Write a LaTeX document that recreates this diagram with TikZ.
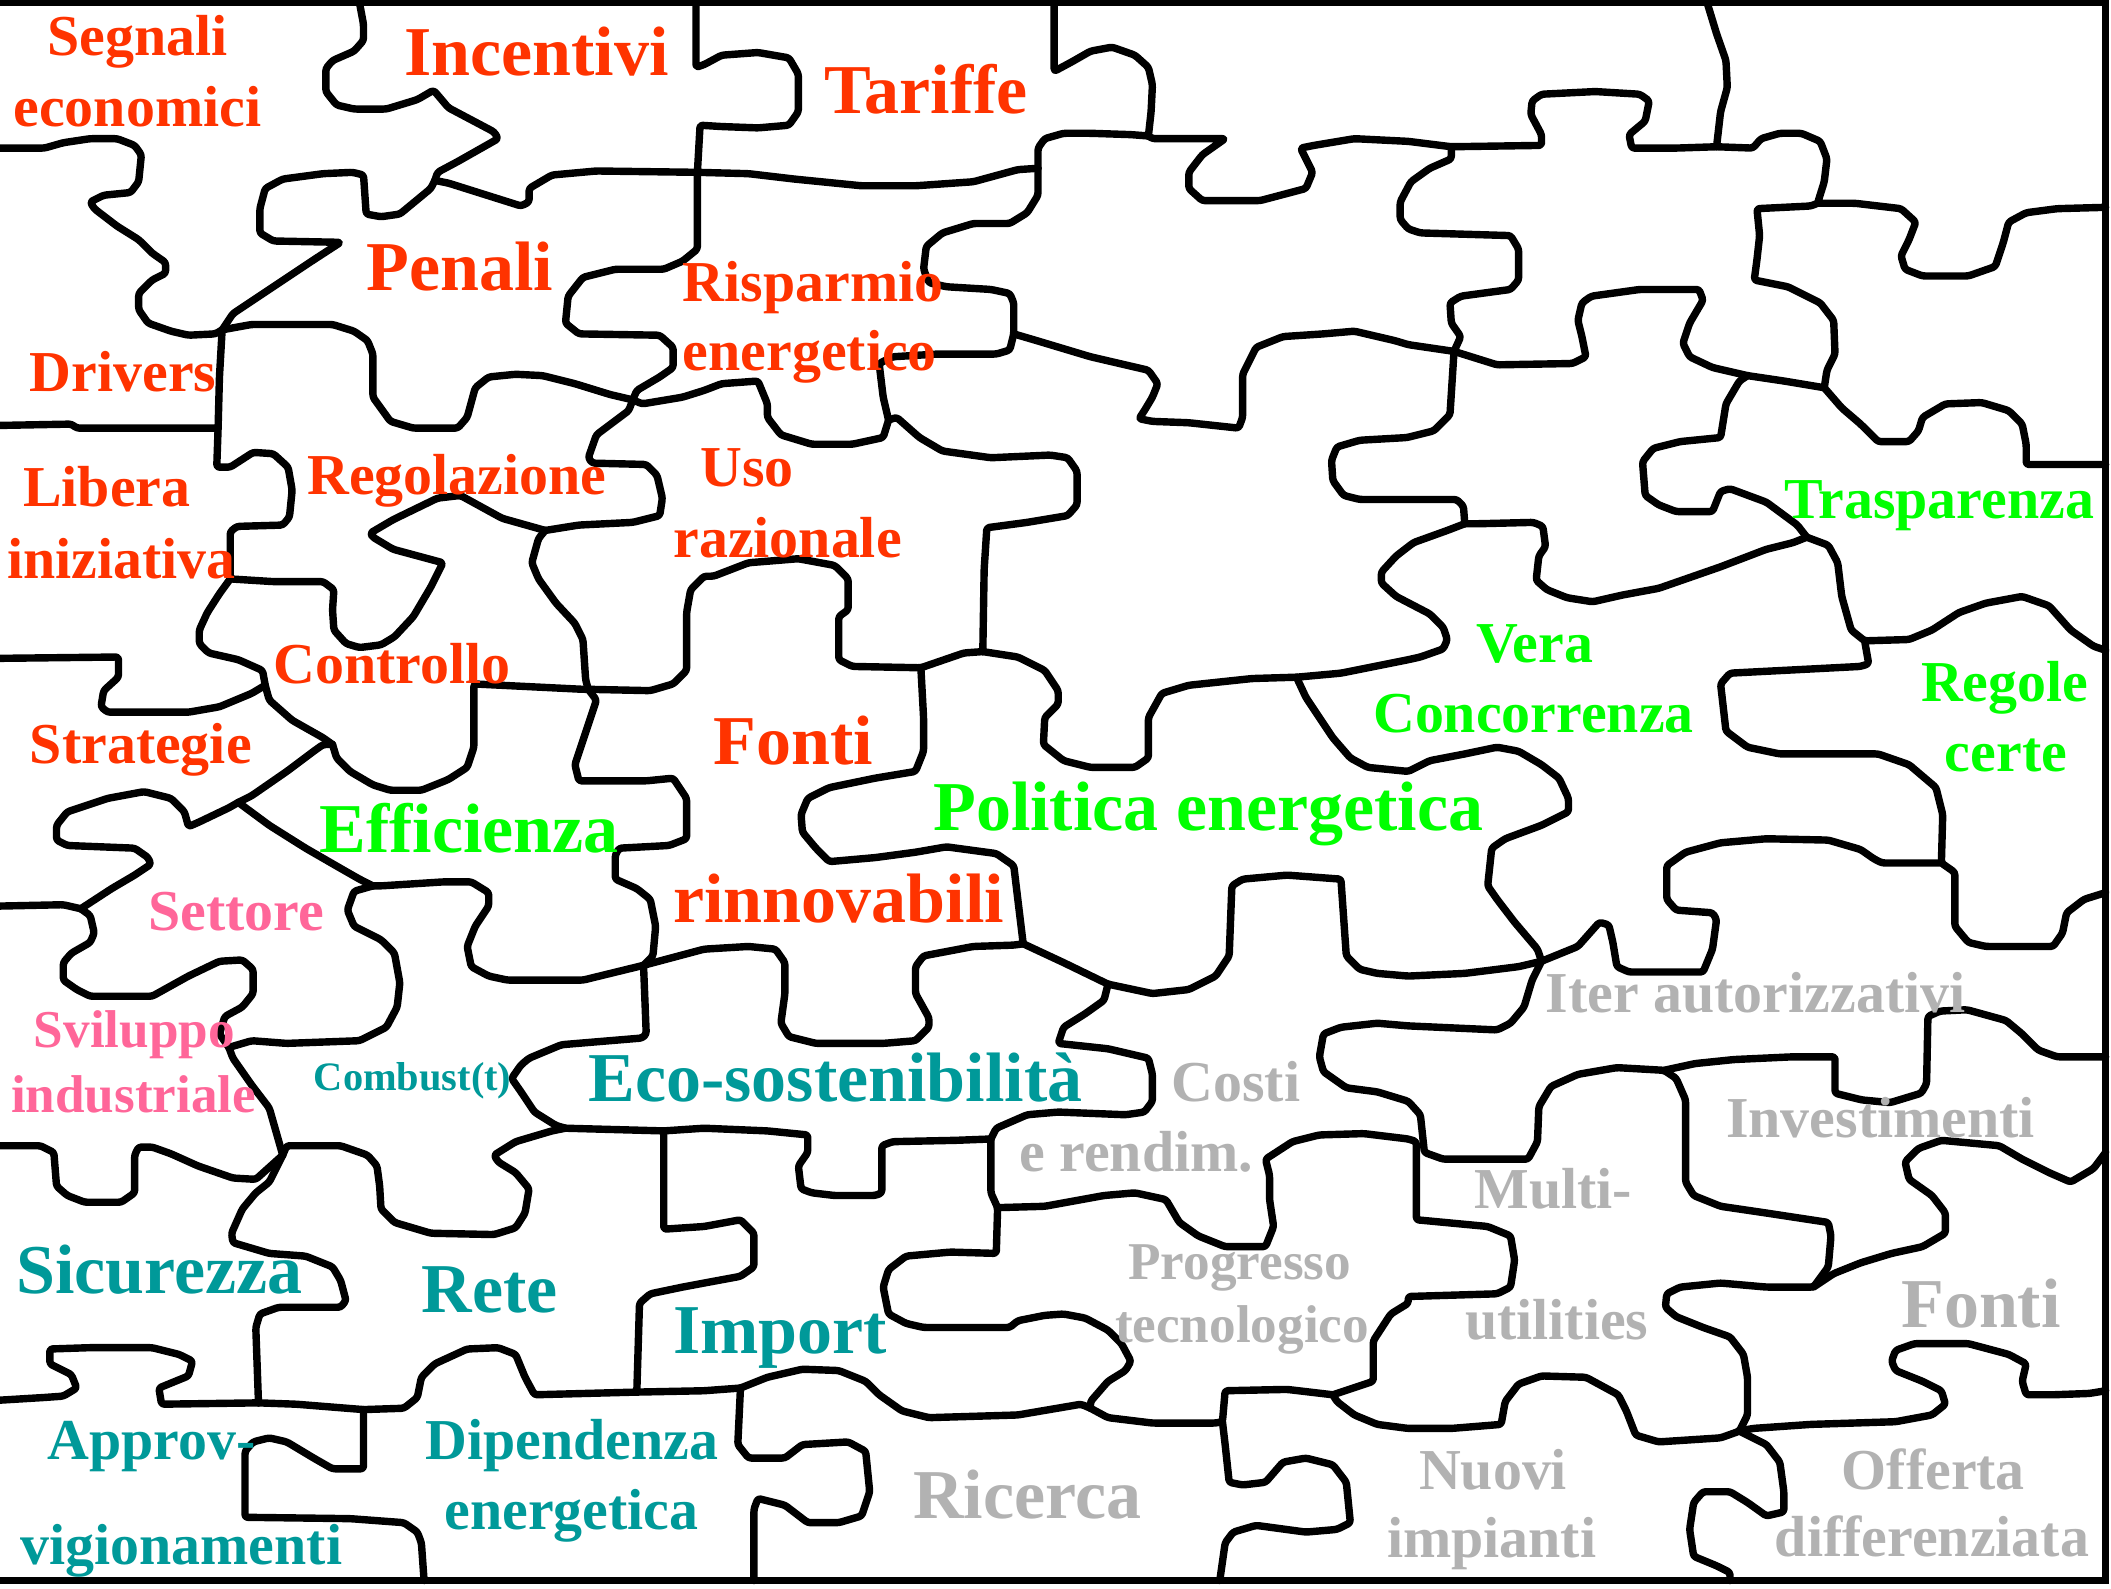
\documentclass[tikz,border=0pt]{standalone}
\usepackage{fontspec}
\setmainfont{Liberation Serif}
\definecolor{lblred}{RGB}{255,51,0}
\definecolor{lblgreen}{RGB}{0,255,0}
\definecolor{lblpink}{RGB}{255,102,153}
\definecolor{lblteal}{RGB}{0,153,153}
\definecolor{lblgray}{RGB}{178,178,178}
\newcommand\szBig{\fontsize{52}{52}\selectfont}
\newcommand\szMid{\fontsize{43}{43}\selectfont}
\newcommand\szSm{\fontsize{39.5}{39.5}\selectfont}
\newcommand\szTiny{\fontsize{30}{30}\selectfont}
\begin{document}
\begin{tikzpicture}[x=1pt,y=-1pt,
  puz/.style={line width=5.5pt,rounded corners=2pt,line join=round,line cap=round},
  frame/.style={line width=5pt},
  lab/.style={anchor=base west,inner sep=0pt,font=\bfseries},
  labc/.style={anchor=base,inner sep=0pt,font=\bfseries}]
\useasboundingbox[fill=white] (0,0) rectangle (1568,1180);

% junction points of the cut lines
\coordinate (J1) at (323,134);  \coordinate (J2) at (470,297);
\coordinate (J3) at (165,245);  \coordinate (J4) at (405,394);
\coordinate (J5) at (437,512);  \coordinate (J6) at (197,509);
\coordinate (J7) at (171,430);  \coordinate (J8) at (247,553);
\coordinate (J11) at (177,596); \coordinate (J12) at (60,675);
\coordinate (J13) at (277,658); \coordinate (J14) at (170,778);
\coordinate (J15) at (210,858); \coordinate (J16) at (420,838);
\coordinate (J17) at (192,1042);\coordinate (J18) at (478,717);
\coordinate (J19) at (473,1034);\coordinate (J20) at (270,1047);
\coordinate (J21) at (771,125); \coordinate (J22) at (853,101);
\coordinate (J24) at (753,248); \coordinate (J25) at (660,312);
\coordinate (J26) at (1275,109);\coordinate (J27) at (1350,151);
\coordinate (J28) at (1355,288);\coordinate (J29) at (1078,109);
\coordinate (J30) at (1080,261);\coordinate (J31) at (1298,279);
\coordinate (J32) at (730,484); \coordinate (J33) at (760,701);
\coordinate (J34) at (684,496); \coordinate (J35) at (823,731);
\coordinate (J36) at (963,503); \coordinate (J37) at (1385,476);
\coordinate (J38) at (1442,641);\coordinate (J39) at (1342,399);
\coordinate (J40) at (1088,389);\coordinate (J42) at (1145,714);
\coordinate (J43) at (810,1046);\coordinate (J44) at (736,846);
\coordinate (J45) at (493,840); \coordinate (J46) at (908,1056);
\coordinate (J47) at (990,1036);\coordinate (J48) at (741,897);
\coordinate (J49) at (550,1031);\coordinate (J50) at (1347,956);
\coordinate (J51) at (1292,1063);\coordinate (J52) at (1236,795);
\coordinate (J53) at (518,128); \coordinate (J54) at (162,318);

% outer frame (top, right, bottom)
\draw[frame] (0,2) -- (1564,2) -- (1564,1174) -- (0,1174);

% cut lines, upper left
\draw[puz] (267,2) -- (270,18) -- (270,30) -- (263,38) -- (247,45) -- (242,51) -- (242,68) -- (250,78) -- (263,81) -- (287,81) -- (310,74) -- (322,67) -- (328,74) -- (333,80) -- (367,98) -- (370,103) -- (340,120) -- (325,128) -- (J1);
\draw[puz] (J1) -- (333,136) -- (387,153) -- (393,150) -- (393,140) -- (410,130) -- (443,127) -- (J53) -- (556,129) -- (590,133) -- (640,138) -- (680,138) -- (723,135) -- (756,126) -- (J21);
\draw[puz] (J1) -- (320,140) -- (297,159) -- (283,161) -- (272,159) -- (270,130) -- (262,128) -- (240,129) -- (210,133) -- (197,140) -- (193,155) -- (193,173) -- (203,179) -- (253,180) -- (233,193) -- (200,215) -- (173,233) -- (J3);
\draw[puz] (J3) -- (160,248) -- (140,249) -- (127,246) -- (110,240) -- (103,230) -- (103,218) -- (113,208) -- (123,203) -- (123,195) -- (113,188) -- (103,178) -- (87,168) -- (70,155) -- (67,150) -- (77,145) -- (97,143) -- (103,135) -- (105,115) -- (100,108) -- (87,103) -- (67,103) -- (47,106) -- (33,110) -- (0,110);
\draw[puz] (J3) -- (187,241) -- (247,241) -- (263,246) -- (273,253) -- (277,263) -- (277,295) -- (290,313) -- (307,318) -- (340,318) -- (347,310) -- (353,288) -- (363,280) -- (383,278) -- (403,279) -- (427,285) -- (453,293) -- (J2);
\draw[puz] (517,2) -- (517,50) -- (523,48) -- (536,41) -- (563,39) -- (586,43) -- (593,55) -- (593,83) -- (586,93) -- (563,95) -- (536,94) -- (520,93) -- (J53) -- (518,185) -- (507,194) -- (493,200) -- (457,200) -- (433,206) -- (422,220) -- (420,240) -- (430,248) -- (490,249) -- (500,258) -- (500,273) -- (490,280) -- (473,290) -- (J2);
\draw[puz] (J2) -- (477,300) -- (507,295) -- (523,290) -- (536,285) -- (563,283) -- (570,300) -- (570,310) -- (580,323) -- (603,330) -- (633,330) -- (656,325) -- (J25);
\draw[puz] (J25) -- (656,295) -- (653,270) -- (663,265) -- (696,263) -- (740,263) -- (750,260) -- (J24) -- (753,225) -- (750,218) -- (736,215) -- (703,213) -- (690,210) -- (686,200) -- (688,183) -- (700,173) -- (723,166) -- (750,166) -- (763,158) -- (771,145) -- (J21);
\draw[puz] (J21) -- (771,110) -- (776,103) -- (790,99) -- (810,99) -- (840,100) -- (J22);
\draw[puz] (783,2) -- (783,53) -- (796,46) -- (810,38) -- (826,35) -- (843,41) -- (853,50) -- (856,63) -- (855,83) -- (J22);

% cut lines, upper right
\draw[puz] (J22) -- (856,103) -- (910,103) -- (893,115) -- (883,128) -- (883,140) -- (893,149) -- (936,149) -- (970,140) -- (975,128) -- (966,110) -- (976,108) -- (1006,103) -- (1046,105) -- (J29) -- (1145,108) -- (1145,100) -- (1137,85) -- (1138,75) -- (1145,70) -- (1185,68) -- (1218,70) -- (1225,75) -- (1222,90) -- (1210,100) -- (1212,110) -- (1245,110) -- (J26);
\draw[puz] (1268,2) -- (1275,25) -- (1282,45) -- (1283,65) -- (1278,83) -- (J26);
\draw[puz] (J26) -- (1302,110) -- (1308,103) -- (1322,99) -- (1338,99) -- (1352,105) -- (1357,118) -- (1355,135) -- (J27) -- (1378,151) -- (1412,155) -- (1423,165) -- (1418,178) -- (1412,190) -- (1415,200) -- (1428,205) -- (1462,205) -- (1482,198) -- (1488,180) -- (1492,165) -- (1505,158) -- (1528,155) -- (1564,154);
\draw[puz] (J27) -- (1345,153) -- (1305,155) -- (1307,175) -- (1305,193) -- (1303,208) -- (1328,213) -- (1352,225) -- (1362,238) -- (1363,263) -- (1357,275) -- (J28);
\draw[puz] (J28) -- (1368,303) -- (1382,315) -- (1395,328) -- (1418,328) -- (1425,320) -- (1428,310) -- (1445,300) -- (1472,299) -- (1492,305) -- (1502,315) -- (1505,330) -- (1505,345) -- (1564,345);
\draw[puz] (J29) -- (1078,118) -- (1062,125) -- (1048,135) -- (1040,150) -- (1040,163) -- (1046,170) -- (1055,173) -- (1122,175) -- (1128,185) -- (1128,208) -- (1122,215) -- (1085,220) -- (1077,225) -- (1078,240) -- (1085,250) -- (J30);
\draw[puz] (J24) -- (770,253) -- (810,265) -- (853,275) -- (860,285) -- (856,295) -- (850,305) -- (846,311) -- (856,313) -- (883,314) -- (920,318) -- (923,310) -- (923,278) -- (933,258) -- (953,250) -- (983,248) -- (1006,246) -- (1036,253) -- (1046,256) -- (J30);
\draw[puz] (J30) -- (1112,271) -- (1168,270) -- (1178,265) -- (1175,250) -- (1172,238) -- (1175,225) -- (1182,220) -- (1218,215) -- (1262,215) -- (1265,223) -- (1255,240) -- (1250,255) -- (1255,265) -- (1272,273) -- (J31) -- (1325,283) -- (J28);
\draw[puz] (J30) -- (1077,308) -- (1065,320) -- (1045,325) -- (1010,327) -- (993,332) -- (989,342) -- (990,357) -- (998,368) -- (1010,371) -- (1082,371) -- (1087,376) -- (J40);
\draw[puz] (J40) -- (1099,389) -- (1139,388) -- (1146,391) -- (1148,406) -- (1143,413) -- (1141,431) -- (1149,438) -- (1164,444) -- (1183,447) -- (1205,442) -- (1232,437) -- (1278,421) -- (1312,408) -- (1332,403) -- (J39);
\draw[puz] (J31) -- (1292,283) -- (1282,300) -- (1278,325) -- (1248,328) -- (1228,333) -- (1220,343) -- (1222,368) -- (1232,375) -- (1245,380) -- (1272,380) -- (1278,365) -- (1285,363) -- (1312,373) -- (1335,390) -- (J39);
\draw[puz] (J39) -- (1358,405) -- (1365,418) -- (1368,443) -- (1375,468) -- (J37) -- (1418,475) -- (1435,468) -- (1455,455) -- (1475,448) -- (1502,443) -- (1522,450) -- (1538,468) -- (1555,480) -- (1564,483);
\draw[puz] (J37) -- (1388,493) -- (1382,495) -- (1285,500) -- (1278,508) -- (1282,543) -- (1298,555) -- (1322,560) -- (1395,560) -- (1418,568) -- (1438,585) -- (1443,605) -- (J38) -- (1452,648) -- (1452,688) -- (1462,700) -- (1475,703) -- (1525,703) -- (1532,693) -- (1535,678) -- (1548,668) -- (1564,663);
\draw[puz] (J38) -- (1398,641) -- (1392,638) -- (1382,631) -- (1358,624) -- (1312,623) -- (1278,626) -- (1252,633) -- (1238,643) -- (1238,668) -- (1245,676) -- (1272,678) -- (1275,683) -- (1272,705) -- (1265,722) -- (1210,722) -- (1201,718) -- (1198,700) -- (1195,687) -- (1188,685) -- (1172,703) -- (J42);

% cut lines, middle
\draw[puz] (J40) -- (1075,394) -- (1050,403) -- (1037,413) -- (1026,425) -- (1026,433) -- (1037,443) -- (1062,456) -- (1072,466) -- (1075,475) -- (1072,482) -- (1055,488) -- (1046,490) -- (996,500) -- (J36) -- (930,504) -- (883,509) -- (863,515) -- (853,533) -- (853,563) -- (843,570) -- (810,570) -- (790,565) -- (775,553) -- (776,533) -- (786,523) -- (786,513) -- (776,498) -- (756,488) -- (J32);
\draw[puz] (J36) -- (970,518) -- (990,548) -- (1003,563) -- (1016,570) -- (1046,573) -- (1062,565) -- (1088,560) -- (1112,555) -- (1128,558) -- (1145,568) -- (1158,578) -- (1165,593) -- (1165,603) -- (1145,613) -- (1118,623) -- (1108,630) -- (1105,658) -- (1112,668) -- (1125,685) -- (1142,705) -- (J42);
\draw[puz] (J25) -- (666,310) -- (683,325) -- (700,335) -- (736,340) -- (780,338) -- (793,340) -- (800,350) -- (800,375) -- (793,383) -- (763,388) -- (733,392) -- (731,423) -- (J32);
\draw[puz] (J32) -- (716,485) -- (J34) -- (633,495) -- (623,490) -- (623,458) -- (630,453) -- (630,430) -- (620,420) -- (593,415) -- (556,418) -- (530,428) -- (523,428) -- (513,438) -- (510,455) -- (510,498) -- (500,508) -- (483,513) -- (J5);
\draw[puz] (J34) -- (686,533) -- (686,558) -- (680,573) -- (650,578) -- (616,585) -- (600,593) -- (595,605) -- (596,618) -- (606,630) -- (616,640) -- (650,637) -- (680,633) -- (703,629) -- (740,634) -- (753,643) -- (756,668) -- (J33);
\draw[puz] (J33) -- (753,702) -- (723,703) -- (686,710) -- (680,718) -- (680,738) -- (690,756) -- (690,763) -- (680,773) -- (656,775) -- (606,775) -- (586,770) -- (580,760) -- (583,738) -- (583,715) -- (576,705) -- (556,703) -- (523,705) -- (J18) -- (433,728) -- (377,728) -- (363,725) -- (350,718) -- (347,703) -- (353,688) -- (363,673) -- (363,663) -- (350,655) -- (330,655) -- (283,658) -- (J13);
\draw[puz] (J33) -- (790,715) -- (J35) -- (856,738) -- (883,735) -- (903,725) -- (913,710) -- (915,658) -- (923,653) -- (956,650) -- (996,653) -- (1000,710) -- (1010,720) -- (1023,723) -- (1046,725) -- (1088,723) -- (1128,718) -- (J42);
\draw[puz] (J2) -- (467,305) -- (443,323) -- (437,340) -- (440,344) -- (480,345) -- (488,353) -- (492,370) -- (490,383) -- (470,388) -- (430,390) -- (J4);
\draw[puz] (J4) -- (400,400) -- (395,418) -- (400,430) -- (413,448) -- (427,463) -- (433,475) -- (435,505) -- (J5);
\draw[puz] (J5) -- (443,520) -- (437,538) -- (427,568) -- (430,580) -- (480,580) -- (500,578) -- (510,593) -- (510,623) -- (497,628) -- (460,630) -- (457,635) -- (457,653) -- (473,660) -- (483,668) -- (487,688) -- (485,710) -- (J18);

% cut lines, left side
\draw[puz] (J3) -- (163,280) -- (J54) -- (161,347) -- (171,347) -- (188,336) -- (203,337) -- (214,347) -- (217,364) -- (215,384) -- (210,390) -- (176,391) -- (171,395) -- (J7) -- (203,432) -- (240,432) -- (248,438) -- (247,453) -- (248,468) -- (257,478) -- (267,481) -- (283,479) -- (293,473) -- (307,458) -- (320,436) -- (324,428) -- (329,418) -- (292,408) -- (277,399) -- (275,396) -- (292,386) -- (325,370) -- (342,368) -- (373,385) -- (J4);
\draw[puz] (J54) -- (57,318) -- (53,315) -- (0,316);
\draw[puz] (J7) -- (163,441) -- (154,455) -- (148,468) -- (148,478) -- (155,485) -- (177,490) -- (195,498) -- (J6);
\draw[puz] (J6) -- (187,515) -- (163,525) -- (140,529) -- (80,529) -- (75,525) -- (77,513) -- (88,503) -- (88,488) -- (0,489);
\draw[puz] (J6) -- (200,520) -- (217,535) -- (240,548) -- (J8);
\draw[puz] (J8) -- (250,563) -- (260,573) -- (277,583) -- (290,587) -- (313,587) -- (333,579) -- (347,570) -- (352,555) -- (352,508) -- (433,512) -- (J5);
\draw[puz] (J8) -- (240,553) -- (233,558) -- (213,573) -- (187,591) -- (J11);
\draw[puz] (J11) -- (200,613) -- (227,630) -- (253,645) -- (267,653) -- (J13);
\draw[puz] (J11) -- (170,600) -- (147,611) -- (140,614) -- (137,603) -- (127,593) -- (107,588) -- (80,593) -- (50,603) -- (42,613) -- (42,624) -- (50,628) -- (100,630) -- (110,637) -- (112,642) -- (100,650) -- (83,660) -- (J12);
\draw[puz] (J12) -- (47,672) -- (0,673);
\draw[puz] (J12) -- (67,680) -- (70,693) -- (67,700) -- (53,708) -- (47,715) -- (47,728) -- (57,735) -- (67,740) -- (113,740) -- (140,725) -- (163,714) -- (180,713) -- (188,720) -- (188,738) -- (180,748) -- (167,755) -- (163,768) -- (J14);
\draw[puz] (J13) -- (263,662) -- (258,676) -- (263,688) -- (283,698) -- (293,708) -- (297,730) -- (295,748) -- (287,763) -- (267,773) -- (213,775) -- (187,773) -- (J14);
\draw[puz] (J14) -- (173,786) -- (187,806) -- (200,823) -- (J15);

% cut lines, lower left
\draw[puz] (J15) -- (190,876) -- (173,875) -- (147,866) -- (127,857) -- (113,852) -- (103,852) -- (100,858) -- (100,886) -- (90,893) -- (63,893) -- (50,888) -- (42,881) -- (40,856) -- (30,851) -- (0,851);
\draw[puz] (J15) -- (213,851) -- (253,851) -- (273,858) -- (280,866) -- (282,881) -- (283,898) -- (293,908) -- (320,916) -- (367,917) -- (383,912) -- (390,901) -- (393,883) -- (383,871) -- (370,863) -- (367,858) -- (383,848) -- (410,840) -- (J16);
\draw[puz] (J16) -- (413,836) -- (397,826) -- (387,811) -- (380,801) -- (387,791) -- (393,786) -- (417,776) -- (477,771) -- (480,768) -- (J18);
\draw[puz] (J15) -- (200,878) -- (190,886) -- (180,898) -- (172,916) -- (173,923) -- (200,931) -- (227,933) -- (247,941) -- (253,951) -- (257,966) -- (253,971) -- (207,971) -- (193,976) -- (190,986) -- (J17);
\draw[puz] (J17) -- (120,1043) -- (118,1031) -- (140,1022) -- (143,1011) -- (133,1006) -- (113,1001) -- (67,1001) -- (37,1002) -- (37,1013) -- (53,1021) -- (57,1031) -- (47,1037) -- (33,1038) -- (0,1040);
\draw[puz] (J45) -- (493,913) -- (523,911) -- (550,906) -- (560,916) -- (560,941) -- (550,948) -- (523,953) -- (507,956) -- (483,961) -- (475,968) -- (J19);
\draw[puz] (J43) -- (803,1043) -- (756,1051) -- (690,1053) -- (670,1048) -- (653,1036) -- (643,1026) -- (623,1018) -- (596,1017) -- (570,1023) -- (J49) -- (523,1033) -- (J19) -- (397,1036) -- (390,1023) -- (383,1006) -- (370,1001) -- (347,1002) -- (323,1013) -- (313,1023) -- (310,1038) -- (300,1046) -- (J20) -- (220,1043) -- (J17);
\draw[puz] (J20) -- (270,1091) -- (247,1091) -- (233,1083) -- (213,1071) -- (200,1068) -- (188,1071) -- (182,1078) -- (182,1127) -- (260,1128) -- (300,1131) -- (310,1138) -- (313,1146) -- (315,1174);
\draw[puz] (J49) -- (548,1073) -- (556,1083) -- (583,1083) -- (596,1073) -- (630,1071) -- (643,1078) -- (646,1108) -- (640,1126) -- (623,1131) -- (600,1131) -- (583,1118) -- (563,1113) -- (560,1121) -- (560,1174);

% cut lines, lower middle
\draw[puz] (J16) -- (J45) -- (523,838) -- (570,840) -- (600,843) -- (600,856) -- (593,866) -- (595,883) -- (603,886) -- (620,888) -- (650,888) -- (655,886) -- (655,851) -- (663,848) -- (710,847) -- (J44);
\draw[puz] (J35) -- (820,743) -- (806,753) -- (790,763) -- (786,775) -- (823,779) -- (853,786) -- (856,798) -- (856,818) -- (850,826) -- (836,828) -- (786,826) -- (763,828) -- (740,838) -- (J44);
\draw[puz] (J44) -- (736,886) -- (J48) -- (740,931) -- (706,930) -- (673,933) -- (660,943) -- (656,956) -- (660,976) -- (673,983) -- (686,986) -- (750,986) -- (756,981) -- (776,977) -- (790,976) -- (806,979) -- (823,988) -- (833,998) -- (840,1011) -- (836,1018) -- (823,1026) -- (810,1041) -- (J43);
\draw[puz] (J48) -- (776,896) -- (820,888) -- (843,886) -- (866,891) -- (876,908) -- (890,918) -- (910,926) -- (940,926) -- (946,911) -- (943,891) -- (943,873) -- (940,861) -- (960,848) -- (980,843) -- (1013,842) -- (1046,846) -- (1052,848) -- (1052,906) -- (1105,911) -- (1122,918) -- (1125,936) -- (1122,956) -- (1112,961) -- (1046,963) -- (1046,968) -- (1033,976) -- (1020,996) -- (1020,1026) -- (J47);
\draw[puz] (J43) -- (823,1053) -- (856,1057) -- (903,1057) -- (J46) -- (910,1033) -- (956,1032) -- (J47);
\draw[puz] (J46) -- (910,1073) -- (913,1101) -- (923,1103) -- (940,1101) -- (953,1086) -- (970,1083) -- (990,1088) -- (1000,1101) -- (1003,1131) -- (993,1136) -- (970,1138) -- (933,1133) -- (916,1138) -- (910,1146) -- (906,1174);

% cut lines, lower right
\draw[puz] (J47) -- (993,1041) -- (1006,1051) -- (1023,1058) -- (1046,1061) -- (1078,1061) -- (1115,1058) -- (1118,1041) -- (1128,1028) -- (1145,1022) -- (1178,1023) -- (1202,1036) -- (1208,1048) -- (1215,1066) -- (1232,1071) -- (1278,1068) -- (J51) -- (1298,1051) -- (1298,1023) -- (1295,1006) -- (1285,993) -- (1265,986) -- (1245,978) -- (1237,971) -- (1238,961) -- (1248,956) -- (1278,953) -- (1312,956) -- (J50) -- (1358,941) -- (1360,918) -- (1358,908) -- (1312,901) -- (1278,896) -- (1258,888) -- (1252,878) -- (1252,817) -- (1245,801) -- (J52) -- (1201,793) -- (1172,798) -- (1152,807) -- (1143,822) -- (1142,848) -- (1135,861) -- (1072,861) -- (1058,856) -- (1055,828) -- (1046,818) -- (1023,811) -- (1000,808) -- (983,796) -- (980,785) -- (983,768) -- (996,763) -- (1023,760) -- (1046,762) -- (1112,765) -- (1122,760) -- (1132,748) -- (1138,728) -- (J42);
\draw[puz] (J52) -- (1259,790) -- (1288,787) -- (1331,785) -- (1363,785) -- (1363,812) -- (1383,817) -- (1404,819) -- (1427,812) -- (1431,805) -- (1432,755) -- (1441,751) -- (1461,750) -- (1490,758) -- (1502,768) -- (1514,780) -- (1528,785) -- (1564,785);
\draw[puz] (J50) -- (1362,946) -- (1382,938) -- (1405,931) -- (1428,926) -- (1445,916) -- (1445,901) -- (1435,888) -- (1418,876) -- (1415,863) -- (1425,853) -- (1442,847) -- (1485,851) -- (1502,861) -- (1522,871) -- (1538,878) -- (1555,868) -- (1564,856);
\draw[puz] (J51) -- (1302,1061) -- (1345,1058) -- (1408,1056) -- (1435,1051) -- (1445,1043) -- (1442,1033) -- (1428,1026) -- (1408,1018) -- (1405,1011) -- (1408,1003) -- (1422,998) -- (1462,998) -- (1492,1006) -- (1505,1013) -- (1502,1026) -- (1505,1036) -- (1525,1036) -- (1552,1035) -- (1564,1033);
\draw[puz] (J51) -- (1312,1073) -- (1322,1086) -- (1325,1108) -- (1325,1123) -- (1312,1126) -- (1298,1116) -- (1285,1108) -- (1265,1108) -- (1258,1116) -- (1255,1136) -- (1258,1156) -- (1275,1163) -- (1285,1168) -- (1285,1174);

% labels: drivers (red)
\begin{scope}[every node/.append style={text=lblred}]
\node[labc,font=\bfseries\szMid] (tSegnali) at (102,41) {Segnali};
\node[labc,font=\bfseries\szMid] (tEconomici) at (102,94) {economici};
\node[lab,font=\bfseries\szBig] (tIncentivi) at (300,56) {Incentivi};
\node[lab,font=\bfseries\szBig] (tTariffe) at (612,84) {Tariffe};
\node[lab,font=\bfseries\szBig] (tPenali) at (272,216) {Penali};
\node[lab,font=\bfseries\szMid] (tRisparmio) at (507,224) {Risparmio};
\node[lab,font=\bfseries\szMid] (tEnergetico) at (507,275) {energetico};
\node[lab,font=\bfseries\szMid] (tDrivers) at (22,291) {Drivers};
\node[lab,font=\bfseries\szMid] (tLibera) at (17,376) {Libera};
\node[lab,font=\bfseries\szMid] (tIniziativa) at (5,430) {iniziativa};
\node[lab,font=\bfseries\szMid] (tRegolazione) at (228,367) {Regolazione};
\node[lab,font=\bfseries\szMid] (tUso) at (520,361) {Uso};
\node[lab,font=\bfseries\szMid] (tRazionale) at (500,414) {razionale};
\node[lab,font=\bfseries\szMid] (tControllo) at (203,508) {Controllo};
\node[lab,font=\bfseries\szMid] (tStrategie) at (22,567) {Strategie};
\node[lab,font=\bfseries\szBig] (tFonti) at (530,568) {Fonti};
\node[lab,font=\bfseries\szBig] (tRinnovabili) at (500,685) {rinnovabili};
\end{scope}

% labels: policy (green)
\begin{scope}[every node/.append style={text=lblgreen}]
\node[lab,font=\bfseries\szBig] (tEfficienza) at (237,633) {Efficienza};
\node[lab,font=\bfseries\szBig] (tPolitica) at (693,617) {Politica energetica};
\node[lab,font=\bfseries\szMid] (tTrasparenza) at (1325,385) {Trasparenza};
\node[labc,font=\bfseries\szMid] (tVera) at (1140,492) {Vera};
\node[labc,font=\bfseries\szMid] (tConcorrenza) at (1139,544) {Concorrenza};
\node[labc,font=\bfseries\szMid] (tRegole) at (1489,521) {Regole};
\node[labc,font=\bfseries\szMid] (tCerte) at (1490,573) {certe};
\end{scope}

% labels: industry (pink)
\begin{scope}[every node/.append style={text=lblpink}]
\node[lab,font=\bfseries\szMid] (tSettore) at (110,691) {Settore};
\node[lab,font=\bfseries\szSm] (tSviluppo) at (25,778) {Sviluppo};
\node[lab,font=\bfseries\szSm] (tIndustriale) at (8,826) {industriale};
\end{scope}

% labels: supply (teal)
\begin{scope}[every node/.append style={text=lblteal}]
\node[lab,font=\bfseries\szTiny] (tCombust) at (233,810) {Combust(t)};
\node[lab,font=\bfseries\szBig] (tEco) at (437,818) {Eco-sostenibilità};
\node[lab,font=\bfseries\szBig] (tSicurezza) at (12,961) {Sicurezza};
\node[lab,font=\bfseries\szBig] (tRete) at (313,975) {Rete};
\node[lab,font=\bfseries\szBig] (tImport) at (500,1005) {Import};
\node[lab,font=\bfseries\szMid] (tApprov) at (35,1084) {Approv-};
\node[lab,font=\bfseries\szMid] (tVigion) at (15,1162) {vigionamenti};
\node[lab,font=\bfseries\szMid] (tDipendenza) at (316,1084) {Dipendenza};
\node[lab,font=\bfseries\szMid] (tEnergetica) at (330,1136) {energetica};
\end{scope}

% labels: market (grey)
\begin{scope}[every node/.append style={text=lblgray}]
\node[lab,font=\bfseries\szMid] (tCosti) at (870,818) {Costi};
\node[lab,font=\bfseries\szMid] (tRendim) at (757,870) {e rendim.};
\node[lab,font=\bfseries\szMid] (tIter) at (1148,752) {Iter autorizzativi};
\node[lab,font=\bfseries\szMid] (tInvest) at (1282,845) {Investimenti};
\node[lab,font=\bfseries\szMid] (tMulti) at (1095,898) {Multi-};
\node[lab,font=\bfseries\szMid] (tUtilities) at (1088,995) {utilities};
\node[lab,font=\bfseries\szSm] (tProgresso) at (838,950) {Progresso};
\node[lab,font=\bfseries\szSm] (tTecno) at (828,997) {tecnologico};
\node[lab,font=\bfseries\szBig] (tFontiG) at (1412,986) {Fonti};
\node[lab,font=\bfseries\szBig] (tRicerca) at (678,1128) {Ricerca};
\node[labc,font=\bfseries\szMid] (tNuovi) at (1109,1106) {Nuovi};
\node[labc,font=\bfseries\szMid] (tImpianti) at (1108,1157) {impianti};
\node[labc,font=\bfseries\szMid] (tOfferta) at (1436,1106) {Offerta};
\node[labc,font=\bfseries\szMid] (tDiff) at (1435,1156) {differenziata};
\end{scope}
\end{tikzpicture}
\end{document}
